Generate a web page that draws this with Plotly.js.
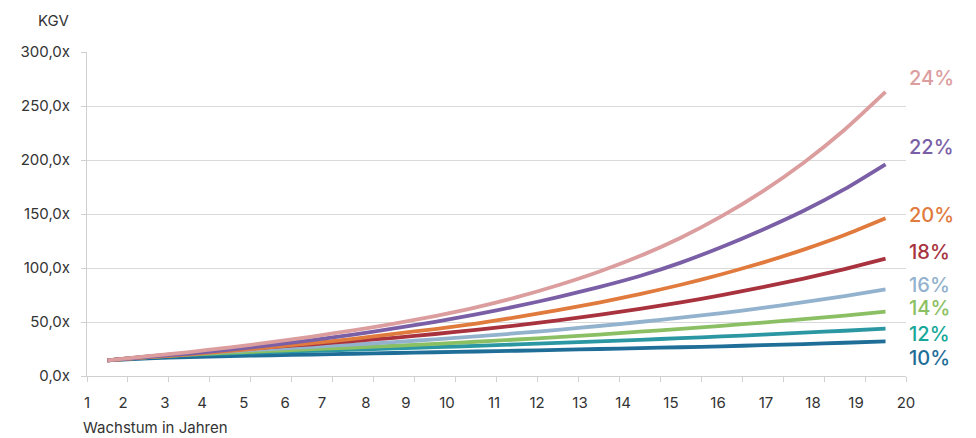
<!DOCTYPE html>
<html>
<head>
<meta charset="utf-8">
<script src="https://cdn.plot.ly/plotly-3.0.1.min.js"></script>
<style>
html,body{margin:0;padding:0;background:#fff;}
#chart{width:976px;height:438px;}
</style>
</head>
<body>
<div id="chart"></div>
<script>
// Years (categories)
const years = [1,2,3,4,5,6,7,8,9,10,11,12,13,14,15,16,17,18,19,20];
// KGV values per growth rate
const g24 = [14.5,18.4,22.2,26.5,31.3,36.5,42.3,48.5,55.5,63.5,73,84,96.5,111,128,148,171,197.5,228,263];
const g22 = [14.5,17.7,20.8,24.4,28.5,33.2,38.4,44,50.2,57,64.6,73,82.3,92.6,105,119.5,135.5,153,173,196];
const g20 = [14.5,17.4,20.1,23.2,26.7,30.4,34.4,39,43.5,48.5,54.5,61,68,75.8,84.5,94.2,105,117,130.5,146];
const g18 = [14.5,18.2,21.2,24.0,26.8,29.4,32.3,35.4,38.9,42.7,46.9,51.5,56.6,62.1,68.2,74.9,82.2,90.2,99,108.6];
const g16 = [14.5,17.9,20.6,22.9,25,27,29.1,31.4,33.9,36.6,39.6,42.8,46.3,50,54,58.2,63,68.3,74,80.2];
const g14 = [14.5,17.6,19.8,21.6,23.2,24.8,26.4,28,29.8,31.7,33.8,36,38.4,41,43.6,46.5,49.5,52.7,56,59.6];
const g12 = [14.5,17.5,19.5,21,22.2,23.3,24.4,25.5,26.7,27.9,29.2,30.6,32,33.5,35,36.6,38.3,40.1,41.9,43.8];
const g10 = [14.5,16.4,17.5,18.4,19.2,19.9,20.6,21.3,22,22.7,23.4,24.2,25,25.8,26.6,27.5,28.5,29.6,30.8,32.1];
const seriesNames = ["24%","22%","20%","18%","16%","14%","12%","10%"];
const seriesValues = [g24,g22,g20,g18,g16,g14,g12,g10];
// x tick labels
const xTickLabels = ["1","2","3","4","5","6","7","8","9","10","11","12","13","14","15","16","17","18","19","20"];
const yTickValues = [0,50,100,150,200,250,300];
const yTickLabels = ["0,0x","50,0x","100,0x","150,0x","200,0x","250,0x","300,0x"];

// styling (not data)
const lineColors = ["#DB9D9E","#7A5FA6","#E07A3D","#A8333F","#93B2CE","#8BBF63","#2B97A2","#1F6E98"];
const labelColors = ["#DB9D9E","#7A5FA6","#E07A3D","#A8333F","#93B2CE","#8BBF63","#17A89A","#1F6E98"];
const labelY = [276,212,149,115,84,63,39,16.5];
const xLabelPos = [0.5,1.38,2.40,3.31,4.33,5.34,6.24,7.31,8.29,9.29,10.44,11.49,12.54,13.59,14.76,15.91,17.08,18.23,19.28,20.5];

const font = "Inter, 'Noto Sans', sans-serif";
const txt = '#333';
const traces = seriesValues.map((v,i)=>({
  x: years, y: v, type:'scatter', mode:'lines', name: seriesNames[i],
  line:{color:lineColors[i], width:3.8, shape:'spline', smoothing:0.6},
  hoverinfo:'skip', cliponaxis:false
})).reverse();
// invisible trace for the label axis
traces.push({x:[years[0]], y:[0], xaxis:'x2', type:'scatter', mode:'markers', marker:{opacity:0}, hoverinfo:'skip', showlegend:false});

const annotations = seriesNames.map((n,i)=>({
  xref:'paper', x:1, xanchor:'left', xshift:1,
  yref:'y', y:labelY[i], yanchor:'middle',
  text:n, showarrow:false,
  font:{family:font, size:20, color:labelColors[i], weight:500}
}));
annotations.push({xref:'paper', yref:'paper', x:0, y:1.0, xshift:-51, yshift:32, xanchor:'left', yanchor:'middle', text:'KGV', showarrow:false, font:{family:font, size:15, color:txt}});
annotations.push({xref:'paper', yref:'paper', x:0, y:0, xshift:-5, yshift:-51, xanchor:'left', yanchor:'middle', borderpad:0, text:'Wachstum in Jahren', showarrow:false, font:{family:font, size:15, color:txt}});

const layout = {
  width:976, height:438,
  margin:{l:87, r:70, t:52, b:62},
  paper_bgcolor:'#fff', plot_bgcolor:'#fff',
  showlegend:false,
  font:{family:font, size:15, color:txt},
  xaxis:{
    range:[0.5,20.5], tickmode:'linear', tick0:0.5, dtick:1,
    showticklabels:false, ticks:'outside', ticklen:5, tickcolor:'#d0d0d0',
    showline:true, linecolor:'#d0d0d0', linewidth:1, showgrid:false, zeroline:false
  },
  xaxis2:{
    overlaying:'x', anchor:'y', side:'bottom', range:[0.5,20.5],
    tickmode:'array', tickvals:xLabelPos, ticktext:xTickLabels,
    ticks:'', showline:false, showgrid:false, zeroline:false,
    ticklabelstandoff:16, tickfont:{family:font, size:15, color:txt}
  },
  yaxis:{
    range:[0,300], tickmode:'array', tickvals:yTickValues, ticktext:yTickLabels,
    ticks:'outside', ticklen:5, tickcolor:'#d0d0d0', ticklabelstandoff:8,
    showgrid:true, gridcolor:'#d9d9d9', gridwidth:1,
    showline:true, linecolor:'#d0d0d0', zeroline:false,
    tickfont:{family:font, size:15, color:txt}
  },
  annotations: annotations
};
Plotly.newPlot('chart', traces, layout, {staticPlot:true, displayModeBar:false});
</script>
</body>
</html>
